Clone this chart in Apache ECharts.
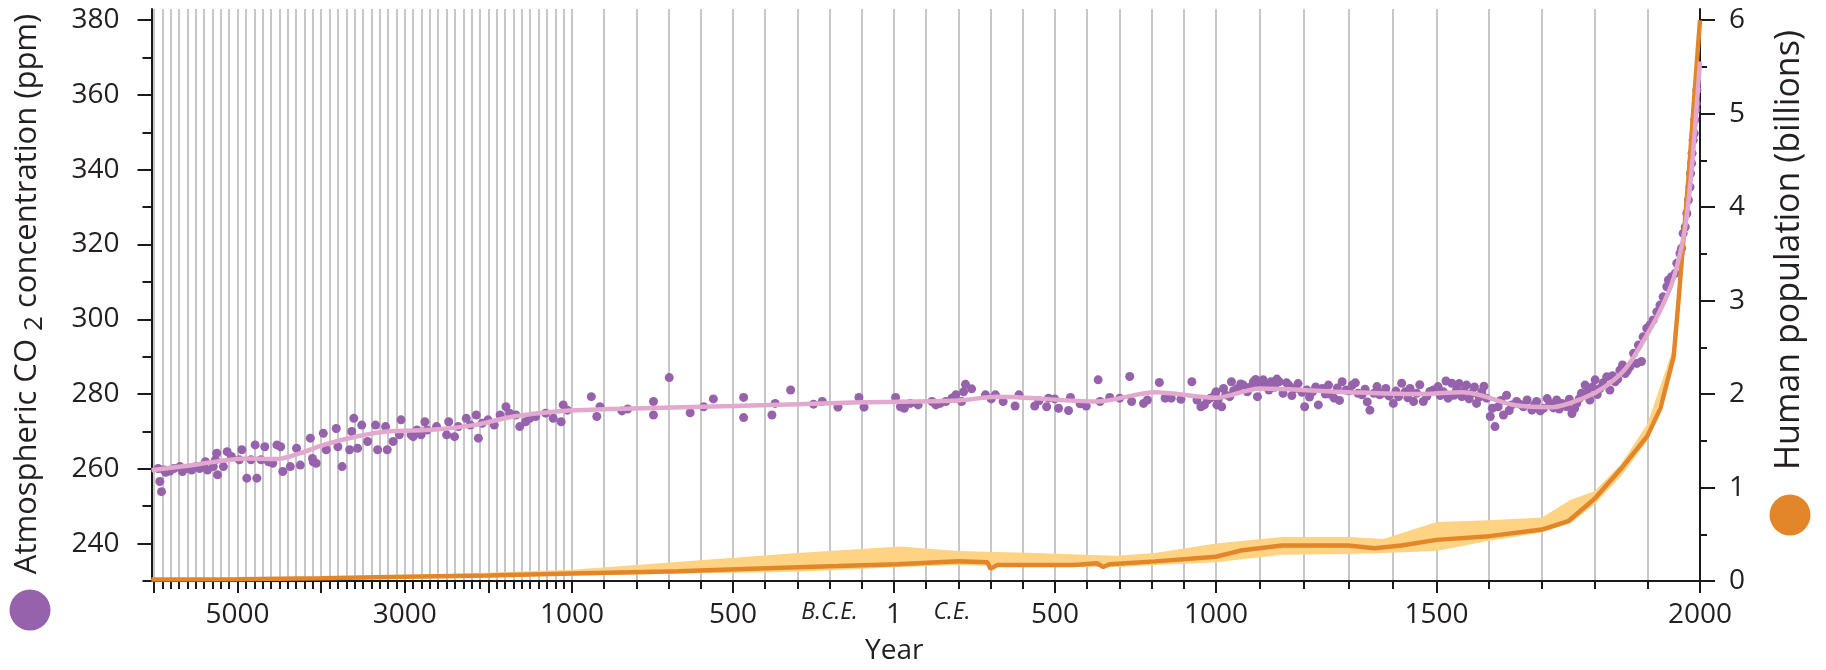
<!DOCTYPE html>
<html>
<head>
<meta charset="utf-8">
<title>CO2 and human population</title>
<script src="https://cdn.jsdelivr.net/npm/echarts@6.0.0/dist/echarts.min.js"></script>
<style>
  html, body { margin: 0; padding: 0; background: #fff; }
  #chart { width: 1826px; height: 670px; }
</style>
</head>
<body>
<div id="chart"></div>
<script>
// ---- data ----
// ice core CO2 samples: [year, ppm]  (negative year = B.C.E.)
var co2Samples = [
  [-5950,260.1],[-5930,256.6],[-5910,253.9],[-5880,259.7],[-5860,259.1],[-5810,259.4],[-5760,260.1],[-5690,260.6],
  [-5660,259.3],[-5620,260.1],[-5550,259.7],[-5500,260.6],[-5455,260.1],[-5410,261.0],[-5385,261.9],[-5360,259.7],
  [-5290,260.6],[-5265,262.4],[-5250,264.2],[-5240,258.4],[-5170,260.6],[-5125,264.6],[-5075,263.3],[-4980,262.4],
  [-4950,265.1],[-4890,257.5],[-4840,262.4],[-4790,266.4],[-4770,257.5],[-4720,262.4],[-4675,265.9],[-4630,261.9],
  [-4580,261.5],[-4530,266.4],[-4485,265.9],[-4460,259.3],[-4370,260.6],[-4295,265.5],[-4250,261.0],[-4130,268.2],
  [-4105,262.8],[-4095,261.9],[-4060,261.5],[-3975,269.5],[-3940,265.1],[-3820,270.8],[-3800,265.9],[-3750,260.6],
  [-3660,265.1],[-3635,270.0],[-3610,273.5],[-3565,265.5],[-3515,271.7],[-3445,267.3],[-3350,271.7],[-3325,265.1],
  [-3230,271.3],[-3210,265.1],[-3140,267.3],[-3065,269.1],[-3045,273.1],[-2925,269.1],[-2900,268.6],[-2855,270.4],
  [-2805,269.1],[-2760,272.6],[-2735,270.4],[-2620,271.3],[-2500,269.1],[-2475,272.6],[-2405,268.6],[-2360,271.3],
  [-2265,273.5],[-2215,271.7],[-2145,274.4],[-2120,268.2],[-2075,272.2],[-2005,273.1],[-1930,271.7],[-1860,274.4],
  [-1790,276.6],[-1745,274.9],[-1670,274.4],[-1625,271.3],[-1555,272.6],[-1505,273.5],[-1435,274.0],[-1315,274.9],
  [-1225,273.5],[-1130,272.6],[-1105,277.1],[-1055,275.7],
  [-940,279.3],[-923,274.0],[-913,276.6],[-845,275.5],[-827,276.0],[-747,278.0],[-747,274.4],[-698,284.4],
  [-633,275.0],[-591,276.6],[-561,278.7],[-467,279.1],[-467,273.7],[-379,274.4],[-369,277.5],[-321,281.1],
  [-250,277.3],[-223,278.0],[-174,276.5],[-109,279.1],[-93,276.5],[5,279.1],[20,276.6],[32,276.2],[51,277.5],
  [75,277.1],[118,278.0],[130,277.1],[143,277.5],[161,278.0],[180,278.9],[192,279.8],[210,278.0],[216,280.6],
  [222,282.6],[241,281.4],[284,279.8],[302,278.7],[315,279.8],[339,278.0],[376,276.8],[388,279.8],[437,276.8],
  [450,278.2],[474,276.6],[480,278.9],[499,278.7],[511,276.2],[542,275.6],[548,279.1],[578,277.4],[597,276.8],
  [634,283.8],[640,278.0],[670,279.1],[701,278.9],[732,284.7],[738,278.0],[775,277.5],[787,278.4],[824,283.1],
  [842,278.9],[861,278.9],[891,278.6],[925,283.3],[941,278.4],[953,276.6],[964,277.1],[973,278.4],[982,278.9],
  [996,279.8],[1000,280.6],[1002,277.1],[1005,278.5],[1013,276.6],[1017,281.5],[1022,279.8],[1031,279.3],
  [1035,283.3],[1040,280.9],[1049,281.5],[1056,282.7],[1062,282.4],[1071,280.6],[1078,281.9],[1085,283.3],
  [1090,283.9],[1094,279.3],[1098,282.4],[1107,283.8],[1113,282.2],[1120,281.1],[1125,283.3],[1133,281.8],
  [1138,284.0],[1143,283.3],[1152,280.2],[1160,283.0],[1165,282.4],[1172,279.6],[1179,281.5],[1186,282.8],
  [1195,280.5],[1201,276.6],[1206,281.1],[1212,279.2],[1219,280.6],[1226,281.9],[1232,277.1],[1241,281.5],
  [1248,280.0],[1255,282.4],[1262,279.8],[1268,278.9],[1275,281.6],[1280,278.3],[1286,283.3],[1295,281.1],
  [1302,280.9],[1309,282.4],[1316,283.0],[1322,280.2],[1331,279.8],[1338,281.3],[1343,277.9],[1349,275.7],
  [1358,280.2],[1365,282.0],[1371,279.8],[1376,280.2],[1385,281.5],[1392,279.5],[1402,277.5],[1408,280.8],
  [1414,279.3],[1421,282.9],[1429,280.6],[1435,279.0],[1440,281.5],[1448,278.0],[1455,280.2],[1462,282.5],
  [1470,278.0],[1478,279.4],[1485,280.7],[1493,281.1],[1503,282.0],[1507,279.6],[1513,280.6],[1518,283.5],
  [1522,278.9],[1529,282.9],[1533,279.7],[1538,281.1],[1543,282.8],[1548,279.3],[1552,280.8],[1557,282.4],
  [1562,278.7],[1567,280.2],[1572,281.9],[1576,277.5],[1581,279.2],[1586,280.6],[1590,282.1],[1595,278.9],
  [1602,274.0],[1606,276.2],[1611,271.3],[1617,276.6],[1622,278.3],[1627,274.4],[1633,279.7],[1638,275.6],
  [1643,277.1],[1652,278.0],[1658,277.3],[1665,276.6],[1672,278.4],[1681,275.7],[1686,277.1],[1690,278.0],
  [1697,275.5],[1703,276.2],[1710,278.8],[1715,277.5],[1722,276.3],[1728,278.4],[1733,276.0],[1738,277.5],
  [1747,276.6],[1752,278.6],[1757,274.8],[1762,276.1],[1766,277.5],[1771,278.8],[1775,280.2],[1782,282.4],
  [1786,280.4],[1791,278.4],[1796,281.9],[1801,283.8],[1805,279.9],[1810,281.5],[1816,283.0],[1823,284.6],
  [1829,281.1],[1834,284.9],[1839,283.3],[1844,284.0],[1848,286.4],[1853,287.8],[1858,285.5],[1862,286.2],
  [1867,287.3],[1874,290.9],[1880,288.2],[1883,293.1],[1889,288.7],
  [1892,295.3],[1899,297.6],[1905,298.5],[1911,299.8],[1918,302.0],[1924,303.8],[1930,306.0],[1937,308.7],
  [1940,310.5],[1946,311.4],[1953,312.3],[1956,315.0],[1962,317.6],[1965,319.0],[1968,323.0],[1972,324.7],
  [1975,328.3],[1978,331.9],[1981,335.4],[1982,339.0],[1984,341.7],[1985,344.4],[1987,347.9],[1989,349.7],
  [1990,353.3],[1992,356.0],[1993,357.7],[1994,361.3]
];

// smoothed CO2 curve
var trendYears  = [-6030,-5600,-5240,-4900,-4530,-4250,-3970,-3590,-3210,-2640,-2170,-1700,-1220,-870,-500,-100,200,320,630,810,1000,1100,1300,1450,1550,1650,1720,1780,1820,1860,1900,1930,1950,1970,1980,1990,2000];
var trendValues = [259.6,260.8,262,262.8,262.6,264.2,266.4,268.6,270,270.5,271.7,274,275.3,276,276.8,277.8,278.3,279.3,278,280.5,279,281.5,280.5,280,280.5,277,276.5,279,282,287,296,304,311,323,334,350,369];

// human population, billions
var popYears  = [-6030,-5000,-4000,-3000,-2000,-1000,-670,-420,-175,10,200,290,300,320,560,630,650,670,810,1000,1060,1150,1300,1360,1420,1500,1600,1700,1750,1800,1850,1900,1925,1950,1960,1970,1980,1990,2000];
var popValues = [0.015,0.02,0.03,0.045,0.06,0.08,0.105,0.135,0.16,0.18,0.21,0.2,0.13,0.17,0.17,0.19,0.15,0.18,0.21,0.26,0.33,0.38,0.38,0.35,0.38,0.44,0.48,0.55,0.64,0.88,1.2,1.55,1.85,2.4,3.05,3.75,4.45,5.25,6.0];

// population uncertainty band
var bandYears = [-6030,-3000,-1000,-300,20,200,440,690,810,1000,1150,1300,1380,1500,1600,1700,1755,1800,1850,1900,1950,2000];
var bandLow   = [0.005,0.03,0.06,0.10,0.15,0.17,0.15,0.15,0.17,0.20,0.28,0.29,0.30,0.32,0.43,0.52,0.62,0.82,1.12,1.50,2.38,6.0];
var bandHigh  = [0.025,0.06,0.12,0.30,0.37,0.32,0.30,0.27,0.30,0.40,0.47,0.47,0.45,0.63,0.65,0.68,0.87,0.96,1.25,1.68,2.5,6.0];

// axis ticks / labels
var xLabelYears = [-5000, -3000, -1000, -500, -200, 0, 180, 500, 1000, 1500, 2000];
var bceMark = -200, ceMark = 180;
var xMajorYears = [-6000, -5000, -4000, -3000, -2000, -1000, -500, 0, 500, 1000, 1500, 2000];
var co2Labels = [240, 260, 280, 300, 320, 340, 360, 380];
var co2Ticks = [230, 240, 250, 260, 270, 280, 290, 300, 310, 320, 330, 340, 350, 360, 370, 380];
var popLabels = [0, 1, 2, 3, 4, 5, 6];
var popTicks = [0, 0.5, 1, 1.5, 2, 2.5, 3, 3.5, 4, 4.5, 5, 5.5, 6];

// ---- piecewise time scale (the B.C.E. part is compressed) ----
var breakYears = [-6030, -1000, 1000, 1500, 2000];
var breakUnits = [0, 420.5, 1064.5, 1285, 1548.5];

function toX(year) {
  var n = breakYears.length;
  for (var i = 0; i < n - 1; i++) {
    if (year <= breakYears[i + 1] || i === n - 2) {
      var t = (year - breakYears[i]) / (breakYears[i + 1] - breakYears[i]);
      return breakUnits[i] + t * (breakUnits[i + 1] - breakUnits[i]);
    }
  }
}
function fromX(u) {
  var n = breakUnits.length;
  for (var i = 0; i < n - 1; i++) {
    if (u <= breakUnits[i + 1] || i === n - 2) {
      var t = (u - breakUnits[i]) / (breakUnits[i + 1] - breakUnits[i]);
      return breakYears[i] + t * (breakYears[i + 1] - breakYears[i]);
    }
  }
}

var minorTickX = [];
for (var y = -6000; y <= 2000; y += 100) minorTickX.push(toX(y));

var FONT = 'Open Sans';
var INK = '#231f20';
var AXIS = '#1a1a1a';

var xMin = 0, xMax = breakUnits[breakUnits.length - 1];

var chart = echarts.init(document.getElementById('chart'));

chart.setOption({
  animation: false,
  backgroundColor: '#fff',
  grid: { left: 151.5, right: 126, top: 9, bottom: 89, containLabel: false, outerBoundsMode: 'none' },
  xAxis: [
    {
      type: 'value', min: xMin, max: xMax, position: 'bottom',
      axisLine: { show: true, onZero: false, lineStyle: { color: AXIS, width: 2 } },
      axisTick: { show: true, length: 8, customValues: minorTickX, lineStyle: { color: AXIS, width: 2 } },
      splitLine: { show: true, lineStyle: { color: '#b5b5b5', width: 1.5 } },
      axisLabel: {
        customValues: xLabelYears.map(toX),
        margin: 20, fontSize: 28, fontFamily: FONT, color: INK,
        formatter: function (v) {
          var yr = Math.round(fromX(v));
          if (yr === bceMark) return '{it|B.C.E.}';
          if (yr === ceMark) return '{it|C.E.}';
          if (yr === 0) return '1';
          return String(Math.abs(yr));
        },
        rich: { it: { fontStyle: 'italic', fontSize: 23, fontFamily: FONT, color: INK, padding: [0, 0, 4, 0] } }
      },
      name: 'Year', nameLocation: 'middle', nameGap: 56,
      nameTextStyle: { fontSize: 28, fontFamily: FONT, color: INK, padding: [0, 63, 0, 0] }
    },
    {
      type: 'value', min: xMin, max: xMax, position: 'bottom',
      axisLine: { show: false, onZero: false },
      axisTick: { show: true, length: 12, customValues: xMajorYears.map(toX), lineStyle: { color: AXIS, width: 2 } },
      axisLabel: { show: false },
      splitLine: { show: false }
    }
  ],
  yAxis: [
    {
      type: 'value', position: 'left', min: 230, max: 383,
      axisLine: { show: true, onZero: false, lineStyle: { color: AXIS, width: 2 } },
      axisTick: { show: true, length: 9, customValues: co2Ticks, lineStyle: { color: AXIS, width: 2 } },
      axisLabel: { customValues: co2Labels, margin: 32, fontSize: 28, fontFamily: FONT, color: INK },
      splitLine: { show: false }
    },
    {
      type: 'value', position: 'right', min: 0, max: 6.12,
      axisLine: { show: true, onZero: false, lineStyle: { color: AXIS, width: 2 } },
      axisTick: { show: true, length: 7, customValues: popTicks, lineStyle: { color: AXIS, width: 2 } },
      axisLabel: { customValues: popLabels, margin: 29, fontSize: 28, fontFamily: FONT, color: INK },
      splitLine: { show: false }
    },
    {
      type: 'value', position: 'left', min: 230, max: 383,
      axisLine: { show: false, onZero: false },
      axisTick: { show: true, length: 14, customValues: co2Labels, lineStyle: { color: AXIS, width: 2 } },
      axisLabel: { show: false }, splitLine: { show: false }
    },
    {
      type: 'value', position: 'right', min: 0, max: 6.12,
      axisLine: { show: false, onZero: false },
      axisTick: { show: true, length: 15, customValues: popLabels, lineStyle: { color: AXIS, width: 2 } },
      axisLabel: { show: false }, splitLine: { show: false }
    }
  ],
  series: [
    {
      // uncertainty band: polygon through the upper edge and back along the lower edge
      name: 'band', type: 'custom', xAxisIndex: 0, yAxisIndex: 1, silent: true, clip: true,
      data: [[toX(bandYears[0]), bandLow[0]]],
      renderItem: function (params, api) {
        var pts = [];
        for (var i = 0; i < bandYears.length; i++) pts.push(api.coord([toX(bandYears[i]), bandHigh[i]]));
        for (var j = bandYears.length - 1; j >= 0; j--) pts.push(api.coord([toX(bandYears[j]), bandLow[j]]));
        return { type: 'polygon', shape: { points: pts }, style: { fill: '#fed383' } };
      }
    },
    {
      name: 'Human population', type: 'line', xAxisIndex: 0, yAxisIndex: 1, symbol: 'none',
      lineStyle: { color: '#e3862a', width: 4.5 },
      data: popYears.map(function (yr, i) { return [toX(yr), popValues[i]]; })
    },
    {
      name: 'CO2 trend', type: 'line', xAxisIndex: 0, yAxisIndex: 0, symbol: 'none', smooth: 0.3,
      lineStyle: { color: '#e2a8cd', width: 4.5 },
      data: trendYears.map(function (yr, i) { return [toX(yr), trendValues[i]]; })
    },
    {
      name: 'CO2', type: 'scatter', xAxisIndex: 0, yAxisIndex: 0, symbol: 'circle', symbolSize: 9,
      itemStyle: { color: '#9562ab', opacity: 1 },
      data: co2Samples.map(function (p) { return [toX(p[0]), p[1]]; })
    }
  ],
  graphic: [
    {
      type: 'text', x: 27, y: 294, rotation: Math.PI / 2,
      style: {
        text: 'Atmospheric CO {sub|2} concentration (ppm)',
        fontSize: 31, fontFamily: FONT, fill: INK, align: 'center', verticalAlign: 'middle',
        rich: { sub: { fontSize: 26, fontFamily: FONT, fill: INK, padding: [16, 0, 0, 0] } }
      }
    },
    {
      type: 'text', x: 1789, y: 250, rotation: Math.PI / 2,
      style: {
        text: 'Human population (billions)',
        fontSize: 34, fontFamily: FONT, fill: INK, align: 'center', verticalAlign: 'middle'
      }
    },
    { type: 'circle', shape: { cx: 30, cy: 610, r: 20.5 }, style: { fill: '#9562ab' } },
    { type: 'circle', shape: { cx: 1790, cy: 515, r: 20.5 }, style: { fill: '#e3862a' } }
  ]
});
</script>
</body>
</html>
